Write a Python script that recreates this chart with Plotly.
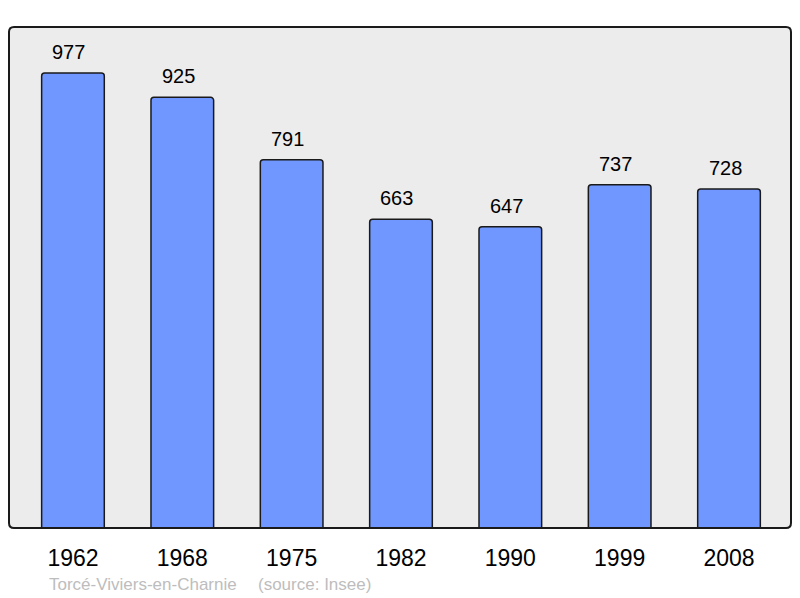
import plotly.graph_objects as go

years = ["1962", "1968", "1975", "1982", "1990", "1999", "2008"]
population = [977, 925, 791, 663, 647, 737, 728]
commune = "Torcé-Viviers-en-Charnie"
source = "(source: Insee)"

W, H = 800, 598
ml, mr, mt, mb = 9, 9, 27, 70
pw, ph = W - ml - mr, H - mt - mb

fig = go.Figure()
fig.add_trace(go.Bar(
    x=years, y=population, width=0.573,
    marker=dict(color="#7096ff", line=dict(color="#1a1a1a", width=1.5), cornerradius=3),
    hoverinfo="skip",
))

for i, v in enumerate(population):
    fig.add_annotation(x=i, y=v, text=str(v), showarrow=False, yanchor="middle",
                       yshift=21, xshift=-4,
                       font=dict(family="Liberation Sans", size=20, color="black"))

fig.add_annotation(xref="paper", yref="paper", x=(47 - ml) / pw, y=-(584 - (H - mb)) / ph,
                   xanchor="left", yanchor="middle", text=commune, showarrow=False,
                   font=dict(family="Liberation Sans", size=17, color="#bdbdbd"))
fig.add_annotation(xref="paper", yref="paper", x=(256 - ml) / pw, y=-(584 - (H - mb)) / ph,
                   xanchor="left", yanchor="middle", text=source, showarrow=False,
                   font=dict(family="Liberation Sans", size=17, color="#bdbdbd"))

# rounded frame
rx, ry = 5 / pw, 5 / ph
path = (f"M {rx},0 L {1-rx},0 Q 1,0 1,{ry} L 1,{1-ry} Q 1,1 {1-rx},1 "
        f"L {rx},1 Q 0,1 0,{1-ry} L 0,{ry} Q 0,0 {rx},0 Z")
fig.add_shape(type="path", xref="paper", yref="paper", path=path,
              line=dict(color="#1a1a1a", width=2), layer="above")

fig.update_layout(
    width=W, height=H,
    margin=dict(l=ml, r=mr, t=mt, b=mb, pad=0),
    paper_bgcolor="white", plot_bgcolor="#ececec",
    showlegend=False,
    xaxis=dict(type="category", range=[-0.585, 6.567], showgrid=False, zeroline=False,
               showline=False, ticks="", ticklabelstandoff=14,
               tickfont=dict(family="Liberation Sans", size=23, color="black")),
    yaxis=dict(range=[0, 1076], showgrid=False, zeroline=False, showline=False,
               showticklabels=False, ticks=""),
)

fig.write_html("out.html", config={"displayModeBar": False},
               post_script="document.body.style.margin='0';document.body.style.overflow='hidden';")
